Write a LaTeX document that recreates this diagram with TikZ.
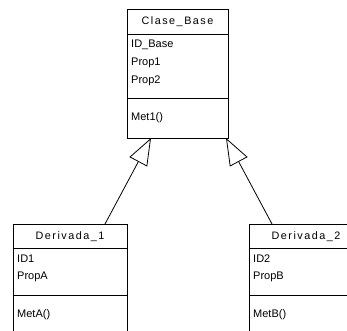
\documentclass[tikz,border=0pt]{standalone}
\usepackage{fontspec}
\setmainfont{Liberation Sans}
\usetikzlibrary{arrows.meta}
\begin{document}
\begin{tikzpicture}[x=1pt,y=-1pt,
  classbox/.style={draw=black, line width=0.9pt, rectangle, inner sep=0pt, outer sep=0pt, anchor=north west},
  sepline/.style={draw=black, line width=0.9pt},
  titletext/.style={font=\fontsize{10.8}{12}\selectfont\addfontfeature{LetterSpace=14}, inner sep=0pt},
  membertext/.style={font=\fontsize{11}{12}\selectfont, inner sep=0pt, anchor=west},
  inherit/.style={draw=black, line width=0.8pt, line join=miter, -{Triangle[open, length=27pt, width=20pt, line width=0.8pt]}}
]
\useasboundingbox (0,0) rectangle (347,330);
\fill[white] (0,0) rectangle (347,330);

% Base class
\node[classbox, minimum width=101pt, minimum height=129pt] (base) at (127,9) {};
\node[titletext] (baset) at (177.5,22) {Clase\_Base};
\draw[sepline] ([yshift=-25pt]base.north west) -- ([yshift=-25pt]base.north east);
\draw[sepline] ([yshift=-89pt]base.north west) -- ([yshift=-89pt]base.north east);
\node[membertext] (b1) at (131,45) {ID\_Base};
\node[membertext] (b2) at (131,63) {Prop1};
\node[membertext] (b3) at (131,81) {Prop2};
\node[membertext] (b4) at (131,118) {Met1()};

% Derived 1
\node[classbox, minimum width=114pt, minimum height=130pt] (d1) at (13,224) {};
\node[titletext] (d1t) at (70,237) {Derivada\_1};
\draw[sepline] ([yshift=-24pt]d1.north west) -- ([yshift=-24pt]d1.north east);
\draw[sepline] ([yshift=-71pt]d1.north west) -- ([yshift=-71pt]d1.north east);
\node[membertext] (d1a) at (17,259) {ID1};
\node[membertext] (d1b) at (17,277) {PropA};
\node[membertext] (d1c) at (17,315) {MetA()};

% Derived 2
\node[classbox, minimum width=114pt, minimum height=130pt] (d2) at (249,224) {};
\node[titletext] (d2t) at (306,237) {Derivada\_2};
\draw[sepline] ([yshift=-24pt]d2.north west) -- ([yshift=-24pt]d2.north east);
\draw[sepline] ([yshift=-71pt]d2.north west) -- ([yshift=-71pt]d2.north east);
\node[membertext] (d2a) at (253,259) {ID2};
\node[membertext] (d2b) at (253,277) {PropB};
\node[membertext] (d2c) at (253,315) {MetB()};

% Inheritance
\draw[inherit] ([xshift=35pt]d1.north) -- ([xshift=24pt]base.south west);
\draw[inherit] ([xshift=-34pt]d2.north) -- ([xshift=-2pt]base.south east);
\end{tikzpicture}
\end{document}
